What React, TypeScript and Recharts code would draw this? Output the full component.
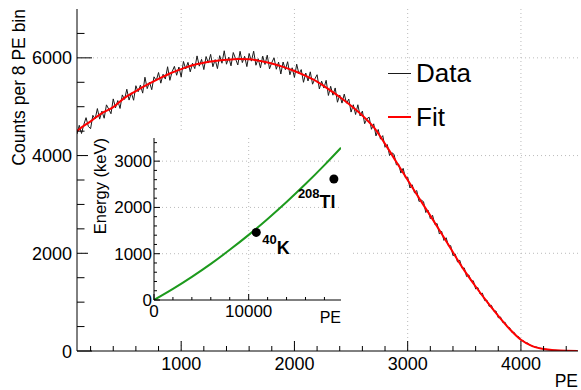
import {
  ComposedChart,
  Line,
  Scatter,
  XAxis,
  YAxis,
  CartesianGrid,
  Legend,
} from "recharts";

const FONT = "'Liberation Sans', Arial, Helvetica, sans-serif";

// measured PE spectrum, one point every 20 PE starting at 80 PE
const SPEC_START = 80;
const SPEC_STEP = 20;
const specCounts = [
  4440, 4620, 4452, 4634, 4776, 4598,
  4550, 4824, 4748, 4962, 4746, 4910, 4764, 5038, 4952, 4856,
  5160, 4978, 5126, 4964, 5242, 5150, 5358, 5136, 5284, 5132,
  5430, 5306, 5442, 5278, 5604, 5370, 5504, 5348, 5612, 5536,
  5700, 5482, 5664, 5566, 5818, 5540, 5718, 5826, 5644, 5812,
  5610, 5926, 5772, 5908, 5714, 5890, 5780, 6040, 5830, 5970,
  5760, 6027, 5894, 6071, 5818, 5965, 5780, 6045, 5890, 6145,
  5870, 6013, 5836, 6109, 5982, 5855, 6134, 5903, 6032, 5821,
  6090, 5933, 6136, 5849, 5982, 5795, 6035, 5865, 6055, 5775,
  5905, 6001, 5767, 5913, 5669, 5915, 5758, 5921, 5654, 5797,
  5600, 5870, 5670, 5760, 5500, 5690, 5527, 5714, 5461, 5568,
  5655, 5364, 5523, 5382, 5541, 5230, 5418, 5236, 5384, 5092,
  5240, 5074, 5258, 5072, 5156, 4890, 5040, 4840, 5040, 4810,
  4910, 4652, 4754, 4786, 4538, 4650, 4402, 4534, 4336, 4408,
  4170, 4226, 4002, 4058, 4024, 3810, 3826, 3642, 3738, 3544,
  3560, 3336, 3402, 3238, 3284, 3060, 3088, 3056, 2834, 2882,
  2710, 2776, 2592, 2608, 2394, 2450, 2264, 2318, 2152, 2156,
  1950, 1986, 1822, 1858, 1694, 1700, 1524, 1558, 1432, 1436,
  1270, 1298, 1166, 1184, 1032, 1040, 912, 934, 816, 818,
  680, 696, 582, 588, 484, 480, 381, 382, 298, 294,
  215, 216, 168, 162, 118, 106, 82, 80, 60, 55,
  38, 36, 28, 26, 19, 16, 12, 11, 9, 7,
  5, 4, 4, 3, 2, 2,
];

// fit curve
const fitPE = [
  80, 100, 200, 300, 400, 500, 600, 700, 800, 900, 1000, 1100, 1200, 1300,
  1400, 1500, 1600, 1700, 1800, 1900, 2000, 2100, 2200, 2300, 2400, 2500,
  2600, 2700, 2800, 2900, 3000, 3100, 3200, 3300, 3400, 3500, 3600, 3700,
  3800, 3900, 4000, 4100, 4200, 4300, 4400, 4500,
];
const fitCounts = [
  4500, 4540, 4700, 4870, 4990, 5180, 5320, 5450, 5570, 5680, 5770, 5850,
  5900, 5935, 5960, 5975, 5970, 5935, 5885, 5815, 5730, 5630, 5515, 5360,
  5200, 5020, 4820, 4580, 4240, 3870, 3500, 3130, 2770, 2400, 2020, 1650,
  1320, 1010, 720, 450, 230, 100, 40, 15, 5, 2,
];

const mainXTicks = [
  200, 400, 600, 800, 1000, 1200, 1400, 1600, 1800, 2000, 2200, 2400, 2600,
  2800, 3000, 3200, 3400, 3600, 3800, 4000, 4200, 4400,
];
const mainXLabels = [1000, 2000, 3000, 4000];
const mainYTicks = [
  0, 500, 1000, 1500, 2000, 2500, 3000, 3500, 4000, 4500, 5000, 5500, 6000, 6500,
];
const mainYLabels = [0, 2000, 4000, 6000];

// inset: energy calibration
const calPE = [0, 2000, 4000, 6000, 8000, 10000, 12000, 14000, 16000, 18000, 19750];
const calKeV = [0, 239, 499, 780, 1084, 1407, 1752, 2118, 2505, 2915, 3290];

const srcName = ["K", "Tl"];
const srcMass = ["40", "208"];
const srcPE = [10800, 19000];
const srcKeV = [1461, 2614];

const insetXTicks = [0, 2000, 4000, 6000, 8000, 10000, 12000, 14000, 16000, 18000];
const insetXLabels = [0, 10000];
const insetYTicks = [
  0, 200, 400, 600, 800, 1000, 1200, 1400, 1600, 1800, 2000, 2200, 2400, 2600,
  2800, 3000, 3200, 3400,
];
const insetYLabels = [0, 1000, 2000, 3000];

const specData = specCounts.map((c, i) => ({ pe: SPEC_START + i * SPEC_STEP, counts: c }));
const fitData = fitPE.map((pe, i) => ({ pe, counts: fitCounts[i] }));
const calData = calPE.map((pe, i) => ({ pe, keV: calKeV[i] }));
const srcData = srcName.map((name, i) => ({ name, mass: srcMass[i], pe: srcPE[i], keV: srcKeV[i] }));

// where each isotope label sits relative to its marker
const srcLabelPos: Record<string, { dx: number; dy: number }> = {
  K: { dx: 6, dy: 12 },
  Tl: { dx: -36, dy: 19 },
};

type Dir = "up" | "down" | "left" | "right";
type TickText = { dx: number; dy: number; size: number; anchor: "start" | "middle" | "end" };

// ROOT style: ticks point into the frame, only major ticks get a number
function axisTick(dir: Dir, labels: number[], majorLen: number, minorLen: number, text?: TickText) {
  return (props: any) => {
    const { x, y, payload } = props;
    const v = Number(payload.value);
    const isMajor = labels.includes(v);
    const len = isMajor ? majorLen : minorLen;
    const x2 = dir === "left" ? x - len : dir === "right" ? x + len : x;
    const y2 = dir === "up" ? y - len : dir === "down" ? y + len : y;
    return (
      <g>
        <line x1={x} y1={y} x2={x2} y2={y2} stroke="#000" strokeWidth={1} />
        {text && isMajor ? (
          <text
            x={x + text.dx}
            y={y + text.dy}
            fontSize={text.size}
            textAnchor={text.anchor}
            fontFamily={FONT}
            fill="#000"
          >
            {v}
          </text>
        ) : null}
      </g>
    );
  };
}

function SourceDot(props: any) {
  const { cx, cy, payload } = props;
  const pos = srcLabelPos[payload.name] || { dx: 6, dy: 12 };
  return (
    <g>
      <circle cx={cx} cy={cy} r={4.5} fill="#000" />
      <text x={cx + pos.dx} y={cy + pos.dy} fontFamily={FONT} fontWeight="bold" fill="#000">
        <tspan fontSize={13}>{payload.mass}</tspan>
        <tspan fontSize={18} dy={10}>
          {payload.name}
        </tspan>
      </text>
    </g>
  );
}

function FitLegend({ payload }: any) {
  return (
    <div style={{ fontFamily: FONT }}>
      {(payload || []).map((p: any) => (
        <div key={p.value} style={{ display: "flex", alignItems: "center", height: 44 }}>
          <span
            style={{
              display: "inline-block",
              width: 23,
              height: 0,
              borderTop: `${p.value === "Fit" ? 2 : 1}px solid ${p.color}`,
              marginRight: 5,
            }}
          />
          <span style={{ fontSize: 26, lineHeight: "44px", color: "#000" }}>{p.value}</span>
        </div>
      ))}
    </div>
  );
}

const frame = { stroke: "#000", strokeWidth: 1 };

export default function App() {
  return (
    <div style={{ position: "absolute", left: 0, top: 0, width: 581, height: 390, background: "#fff" }}>
      <ComposedChart width={581} height={390} margin={{ top: 9, right: 3, bottom: 0, left: 0 }}>
        <CartesianGrid
          stroke="#bbb"
          strokeDasharray="1 3"
          verticalValues={mainXLabels}
          horizontalValues={mainYLabels.filter((v) => v > 0)}
        />
        <XAxis
          type="number"
          dataKey="pe"
          domain={[80, 4504]}
          allowDataOverflow
          ticks={mainXTicks}
          interval={0}
          height={39}
          tickSize={0}
          tickMargin={0}
          axisLine={frame}
          tick={axisTick("up", mainXLabels, 10, 5, { dx: 0, dy: 19, size: 18, anchor: "middle" })}
          label={(p: any) => (
            <text
              x={p.viewBox.x + p.viewBox.width}
              y={p.viewBox.y + 36}
              textAnchor="end"
              fontSize={17.5}
              fontFamily={FONT}
              fill="#000"
            >
              PE
            </text>
          )}
        />
        <XAxis
          xAxisId="top"
          orientation="top"
          type="number"
          domain={[80, 4504]}
          allowDataOverflow
          ticks={mainXTicks}
          interval={0}
          height={0}
          tickSize={0}
          tickMargin={0}
          axisLine={frame}
          tick={axisTick("down", mainXLabels, 10, 5)}
        />
        <YAxis
          type="number"
          domain={[0, 7000]}
          allowDataOverflow
          ticks={mainYTicks}
          interval={0}
          width={77}
          tickSize={0}
          tickMargin={0}
          axisLine={frame}
          tick={axisTick("right", mainYLabels, 15, 7.5, { dx: -5, dy: 6.5, size: 18, anchor: "end" })}
          label={(p: any) => {
            const x = p.viewBox.x + 25;
            const y = p.viewBox.y;
            return (
              <text
                x={x}
                y={y}
                transform={`rotate(-90, ${x}, ${y})`}
                textAnchor="end"
                fontSize={17.5}
                fontFamily={FONT}
                fill="#000"
              >
                Counts per 8 PE bin
              </text>
            );
          }}
        />
        <YAxis
          yAxisId="right"
          orientation="right"
          type="number"
          domain={[0, 7000]}
          allowDataOverflow
          ticks={mainYTicks}
          interval={0}
          width={0}
          tickSize={0}
          tickMargin={0}
          axisLine={frame}
          tick={axisTick("left", mainYLabels, 15, 7.5)}
        />
        <Line
          data={specData}
          dataKey="counts"
          name="Data"
          type="linear"
          stroke="#1a1a1a"
          strokeWidth={1}
          dot={false}
          isAnimationActive={false}
        />
        <Line
          data={fitData}
          dataKey="counts"
          name="Fit"
          type="monotone"
          stroke="#ff0000"
          strokeWidth={2}
          dot={false}
          isAnimationActive={false}
        />
        <Legend
          layout="vertical"
          align="center"
          verticalAlign="middle"
          wrapperStyle={{ left: 388, top: 51, width: 120 }}
          content={FitLegend}
        />
      </ComposedChart>

      <div style={{ position: "absolute", left: 88, top: 132, width: 264, height: 206, background: "#fff" }}>
        <ComposedChart width={264} height={206} margin={{ top: 6, right: 11, bottom: 0, left: 0 }}>
          <CartesianGrid
            stroke="#bbb"
            strokeDasharray="1 3"
            verticalValues={[10000]}
            horizontalValues={insetYLabels.filter((v) => v > 0)}
          />
          <XAxis
            type="number"
            dataKey="pe"
            domain={[0, 19750]}
            allowDataOverflow
            ticks={insetXTicks}
            interval={0}
            height={38}
            tickSize={0}
            tickMargin={0}
            axisLine={frame}
            tick={axisTick("up", insetXLabels, 6, 3, { dx: 0, dy: 17, size: 17, anchor: "middle" })}
            label={(p: any) => (
              <text
                x={p.viewBox.x + p.viewBox.width}
                y={p.viewBox.y + 23}
                textAnchor="end"
                fontSize={16}
                fontFamily={FONT}
                fill="#000"
              >
                PE
              </text>
            )}
          />
          <XAxis
            xAxisId="top"
            orientation="top"
            type="number"
            domain={[0, 19750]}
            allowDataOverflow
            ticks={insetXTicks}
            interval={0}
            height={0}
            tickSize={0}
            tickMargin={0}
            axisLine={frame}
            tick={axisTick("down", insetXLabels, 6, 3)}
          />
          <YAxis
            type="number"
            domain={[0, 3500]}
            allowDataOverflow
            ticks={insetYTicks}
            interval={0}
            width={66}
            tickSize={0}
            tickMargin={0}
            axisLine={frame}
            tick={axisTick("right", insetYLabels, 6, 3, { dx: -2, dy: 6, size: 17, anchor: "end" })}
            label={(p: any) => {
              const x = p.viewBox.x + 18;
              const y = p.viewBox.y;
              return (
                <text
                  x={x}
                  y={y}
                  transform={`rotate(-90, ${x}, ${y})`}
                  textAnchor="end"
                  fontSize={16.5}
                  fontFamily={FONT}
                  fill="#000"
                >
                  Energy (keV)
                </text>
              );
            }}
          />
          <YAxis
            yAxisId="right"
            orientation="right"
            type="number"
            domain={[0, 3500]}
            allowDataOverflow
            ticks={insetYTicks}
            interval={0}
            width={0}
            tickSize={0}
            tickMargin={0}
            axisLine={frame}
            tick={axisTick("left", insetYLabels, 6, 3)}
          />
          <Line
            data={calData}
            dataKey="keV"
            type="monotone"
            stroke="#1d9a1d"
            strokeWidth={2}
            dot={false}
            isAnimationActive={false}
          />
          <Scatter data={srcData} dataKey="keV" shape={SourceDot} isAnimationActive={false} />
        </ComposedChart>
      </div>
    </div>
  );
}
